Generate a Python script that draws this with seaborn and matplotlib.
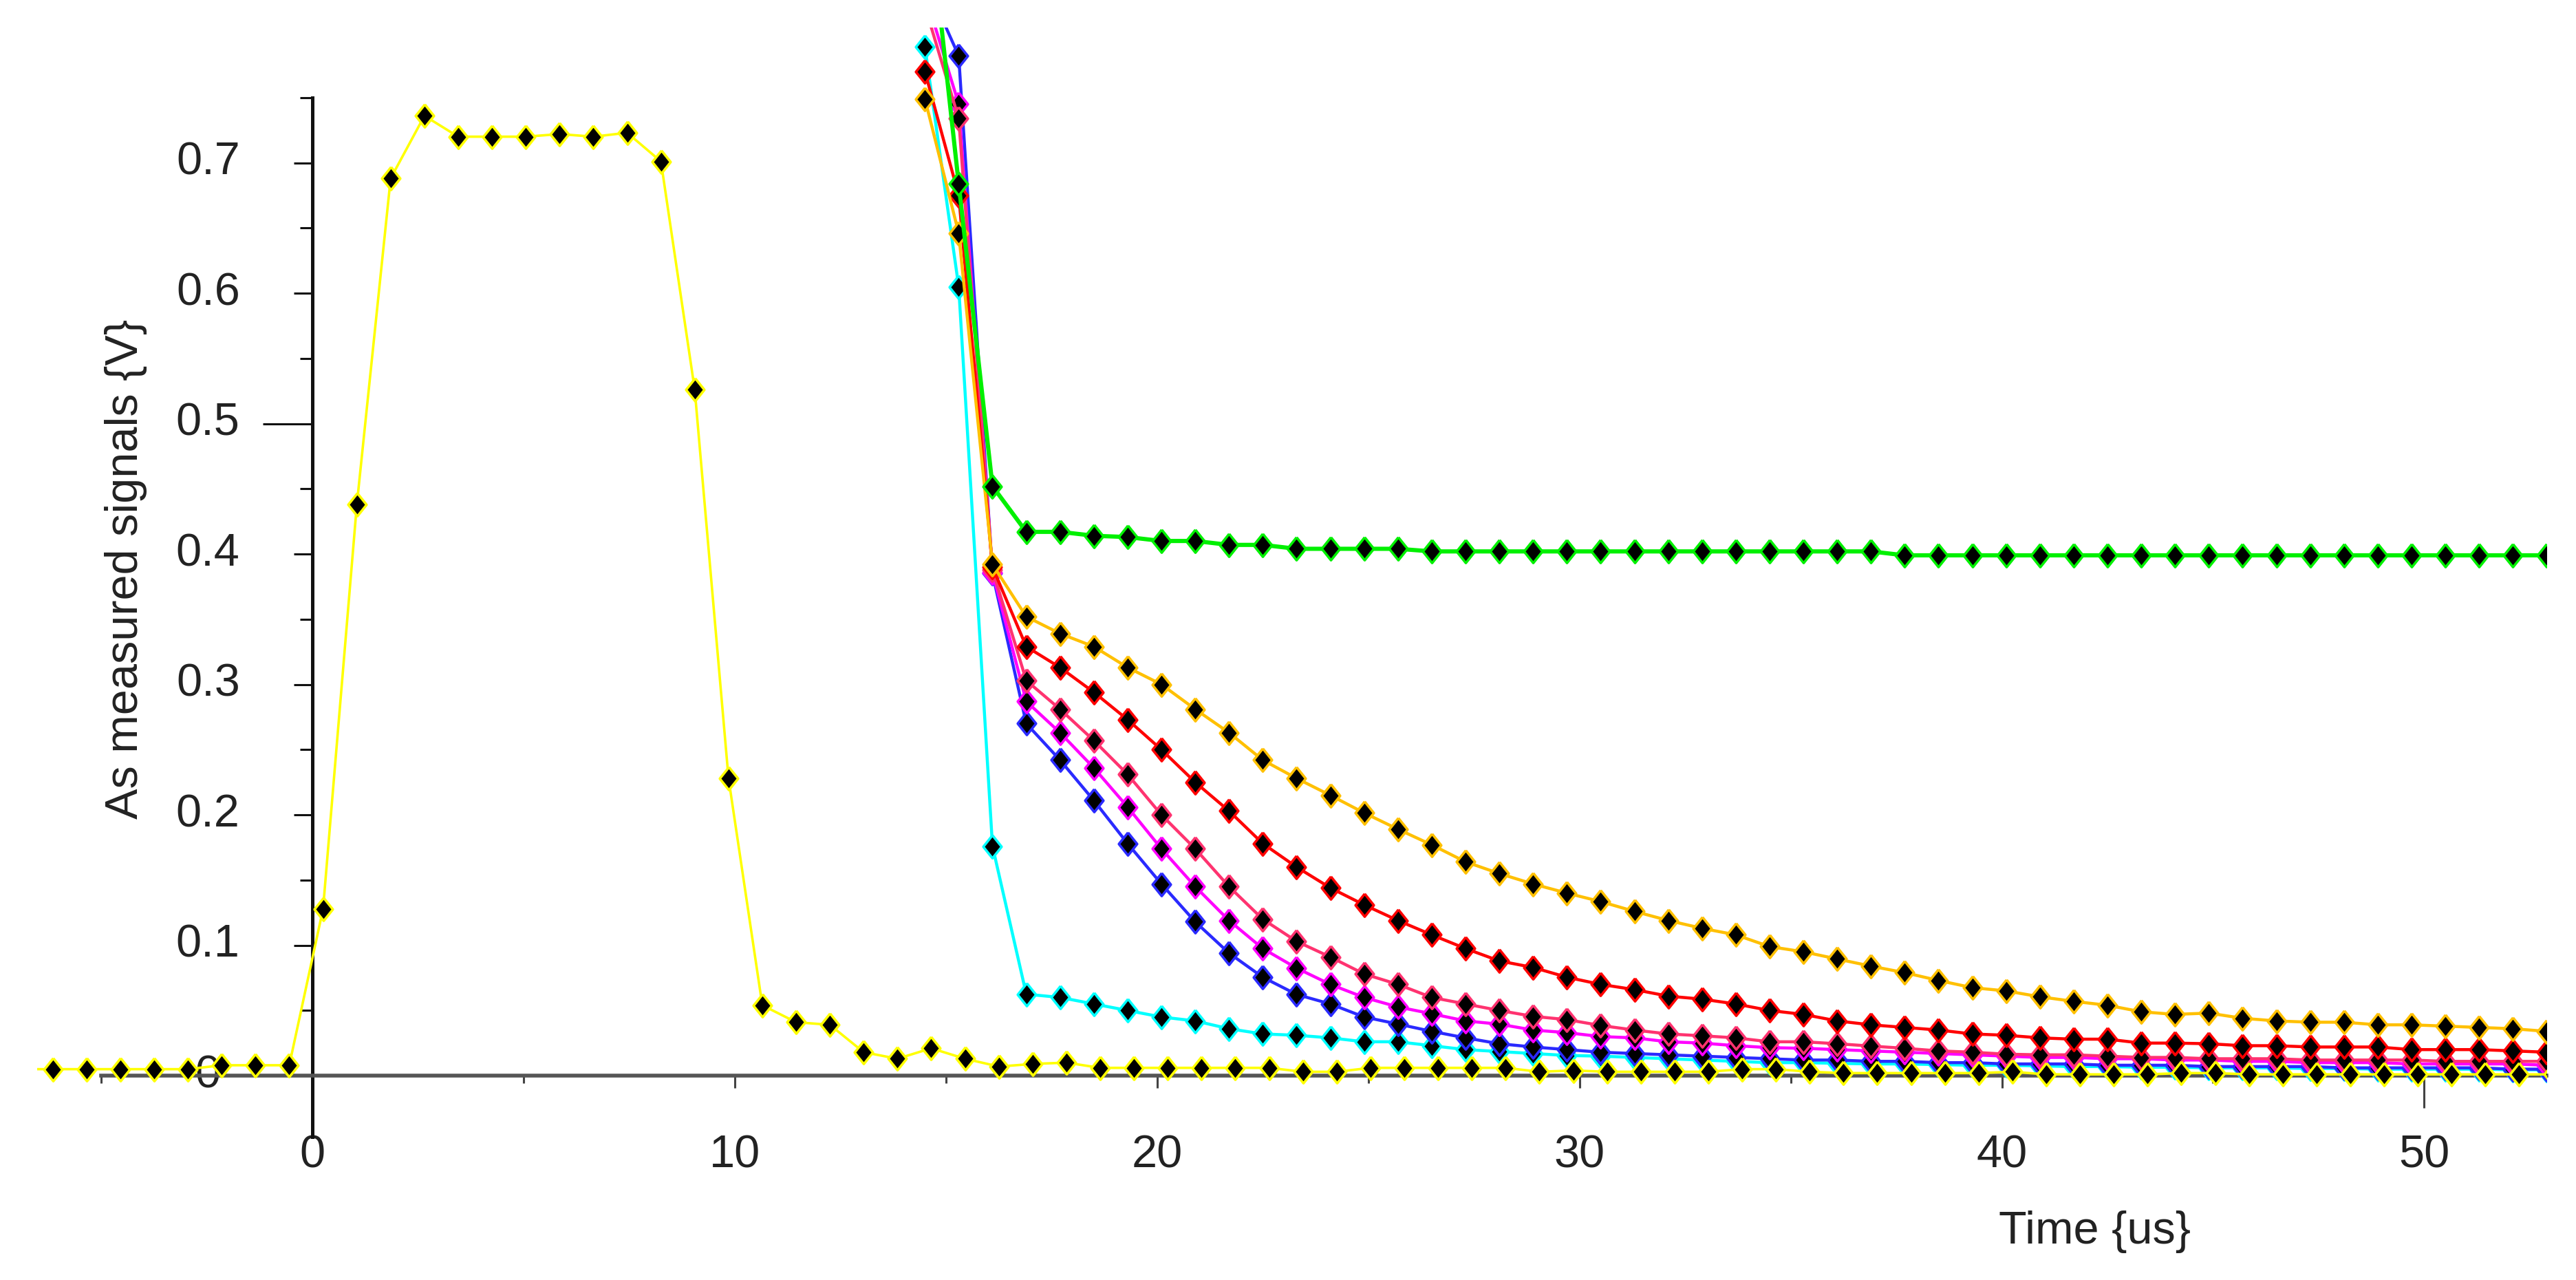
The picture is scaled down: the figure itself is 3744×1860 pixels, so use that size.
import numpy as np
import pandas as pd
import seaborn as sns
from matplotlib import pyplot as plt
from matplotlib.ticker import FixedLocator, FuncFormatter

# excitation pulse, sampled every 0.8 us
PULSE_TIME = [
    -6.95, -6.15, -5.35, -4.55, -3.75, -2.95, -2.15, -1.35, -0.55, 0.25,
    1.05, 1.85, 2.65, 3.45, 4.25, 5.05, 5.85, 6.65, 7.45, 8.25,
    9.05, 9.85, 10.65, 11.45, 12.25, 13.05, 13.85, 14.65, 15.45, 16.25,
    17.05, 17.85, 18.65, 19.45, 20.25, 21.05, 21.85, 22.65, 23.45, 24.25,
    25.05, 25.85, 26.65, 27.45, 28.25, 29.05, 29.85, 30.65, 31.45, 32.25,
    33.05, 33.85, 34.65, 35.45, 36.25, 37.05, 37.85, 38.65, 39.45, 40.25,
    41.05, 41.85, 42.65, 43.45, 44.25, 45.05, 45.85, 46.65, 47.45, 48.25,
    49.05, 49.85, 50.65, 51.45, 52.25, 53.05,
]
PULSE = [
    0.005, 0.005, 0.005, 0.005, 0.005, 0.005, 0.008, 0.008, 0.008, 0.128,
    0.438, 0.688, 0.736, 0.720, 0.720, 0.720, 0.722, 0.720, 0.723, 0.701,
    0.526, 0.228, 0.054, 0.041, 0.039, 0.018, 0.013, 0.021, 0.013, 0.007,
    0.009, 0.010, 0.006, 0.006, 0.006, 0.006, 0.006, 0.006, 0.003, 0.003,
    0.006, 0.006, 0.006, 0.006, 0.006, 0.003, 0.004, 0.003, 0.003, 0.003,
    0.003, 0.005, 0.005, 0.003, 0.002, 0.002, 0.002, 0.002, 0.002, 0.003,
    0.001, 0.001, 0.001, 0.001, 0.002, 0.002, 0.001, 0.001, 0.001, 0.001,
    0.001, 0.001, 0.001, 0.001, 0.001, 0.001,
]

# decay traces after switch-off
DECAY_TIME = [
    14.5, 15.3, 16.1, 16.9, 17.7, 18.5, 19.3, 20.1, 20.9, 21.7,
    22.5, 23.3, 24.1, 24.9, 25.7, 26.5, 27.3, 28.1, 28.9, 29.7,
    30.5, 31.3, 32.1, 32.9, 33.7, 34.5, 35.3, 36.1, 36.9, 37.7,
    38.5, 39.3, 40.1, 40.9, 41.7, 42.5, 43.3, 44.1, 44.9, 45.7,
    46.5, 47.3, 48.1, 48.9, 49.7, 50.5, 51.3, 52.1, 52.9,
]
GREEN = [
    0.92, 0.684, 0.452, 0.417, 0.417, 0.414, 0.413, 0.410, 0.410, 0.407,
    0.407, 0.404, 0.404, 0.404, 0.404, 0.402, 0.402, 0.402, 0.402, 0.402,
    0.402, 0.402, 0.402, 0.402, 0.402, 0.402, 0.402, 0.402, 0.402, 0.399,
    0.399, 0.399, 0.399, 0.399, 0.399, 0.399, 0.399, 0.399, 0.399, 0.399,
    0.399, 0.399, 0.399, 0.399, 0.399, 0.399, 0.399, 0.399, 0.399,
]
ORANGE = [
    0.749, 0.646, 0.392, 0.352, 0.339, 0.329, 0.313, 0.300, 0.281, 0.263,
    0.242, 0.228, 0.215, 0.2015, 0.189, 0.177, 0.164, 0.155, 0.147, 0.140,
    0.1335, 0.126, 0.119, 0.113, 0.108, 0.099, 0.095, 0.0895, 0.084, 0.079,
    0.073, 0.0675, 0.065, 0.0605, 0.057, 0.054, 0.049, 0.047, 0.048, 0.044,
    0.042, 0.041, 0.041, 0.039, 0.039, 0.038, 0.037, 0.036, 0.034,
]
RED = [
    0.770, 0.675, 0.390, 0.329, 0.313, 0.294, 0.273, 0.250, 0.225, 0.203,
    0.178, 0.160, 0.144, 0.131, 0.119, 0.108, 0.0975, 0.088, 0.083, 0.0755,
    0.070, 0.066, 0.061, 0.0587, 0.055, 0.050, 0.047, 0.042, 0.039, 0.037,
    0.035, 0.032, 0.031, 0.029, 0.028, 0.028, 0.025, 0.025, 0.0245, 0.023,
    0.023, 0.022, 0.022, 0.022, 0.020, 0.020, 0.020, 0.019, 0.018,
]
CRIMSON = [
    0.82, 0.734, 0.388, 0.303, 0.281, 0.257, 0.231, 0.200, 0.174, 0.145,
    0.120, 0.103, 0.091, 0.078, 0.070, 0.060, 0.055, 0.050, 0.0455, 0.043,
    0.0385, 0.035, 0.032, 0.0306, 0.029, 0.026, 0.026, 0.0245, 0.0227, 0.021,
    0.019, 0.018, 0.0165, 0.016, 0.016, 0.015, 0.014, 0.014, 0.013, 0.013,
    0.013, 0.012, 0.012, 0.012, 0.012, 0.011, 0.011, 0.011, 0.011,
]
MAGENTA = [
    0.83, 0.745, 0.386, 0.287, 0.263, 0.236, 0.206, 0.174, 0.145, 0.119,
    0.0975, 0.0825, 0.070, 0.060, 0.0527, 0.0475, 0.042, 0.0395, 0.035, 0.033,
    0.030, 0.029, 0.026, 0.025, 0.023, 0.0215, 0.021, 0.020, 0.019, 0.018,
    0.017, 0.016, 0.015, 0.014, 0.014, 0.013, 0.013, 0.012, 0.012, 0.011,
    0.011, 0.010, 0.010, 0.010, 0.009, 0.009, 0.009, 0.009, 0.008,
]
BLUE = [
    0.84, 0.782, 0.385, 0.270, 0.242, 0.211, 0.178, 0.147, 0.118, 0.094,
    0.0755, 0.0623, 0.055, 0.045, 0.0396, 0.034, 0.029, 0.0245, 0.022, 0.020,
    0.018, 0.017, 0.016, 0.015, 0.014, 0.013, 0.012, 0.012, 0.011, 0.011,
    0.010, 0.010, 0.009, 0.009, 0.009, 0.008, 0.008, 0.008, 0.007, 0.007,
    0.007, 0.007, 0.006, 0.006, 0.006, 0.006, 0.006, 0.005, 0.005,
]
CYAN = [
    0.789, 0.605, 0.176, 0.0625, 0.060, 0.055, 0.050, 0.045, 0.042, 0.036,
    0.032, 0.031, 0.029, 0.026, 0.026, 0.023, 0.020, 0.0185, 0.017, 0.0155,
    0.015, 0.014, 0.013, 0.012, 0.011, 0.010, 0.010, 0.0095, 0.009, 0.009,
    0.0085, 0.008, 0.008, 0.0075, 0.007, 0.007, 0.0065, 0.0065, 0.006, 0.006,
    0.006, 0.0055, 0.0055, 0.005, 0.005, 0.005, 0.005, 0.0045, 0.0045,
]

COLORS = {
    "cyan": "#00ffff",
    "blue": "#2a2aff",
    "magenta": "#ff00ff",
    "crimson": "#ff3370",
    "red": "#ff0000",
    "orange": "#ffc000",
    "green": "#00f000",
    "pulse": "#ffff00",
}
WIDTHS = {"green": 2.2, "pulse": 1.3}
# slightly tall diamond, like the scope software draws
DIAMOND = [(0, 1), (0.8, 0), (0, -1), (-0.8, 0), (0, 1)]

sns.set_theme(style="white")
plt.rcParams["font.family"] = ["Liberation Sans", "DejaVu Sans"]
TEXT = "#222222"

frames = [pd.DataFrame({"time": PULSE_TIME, "signal": PULSE, "trace": "pulse"})]
for name, values in [("cyan", CYAN), ("blue", BLUE), ("magenta", MAGENTA),
                     ("crimson", CRIMSON), ("red", RED), ("orange", ORANGE),
                     ("green", GREEN)]:
    frames.append(pd.DataFrame({"time": DECAY_TIME, "signal": values, "trace": name}))
data = pd.concat(frames, ignore_index=True)

fig = plt.figure(figsize=(18.72, 9.3), dpi=200)
ax = fig.add_axes([0.01442, 0.0883, 0.9742, 0.8902])

for name in ["cyan", "blue", "magenta", "crimson", "red", "orange", "green", "pulse"]:
    sns.lineplot(
        data=data[data["trace"] == name],
        x="time",
        y="signal",
        color=COLORS[name],
        linewidth=WIDTHS.get(name, 1.6),
        marker=DIAMOND,
        markersize=12.0,
        markerfacecolor="black",
        markeredgecolor=COLORS[name],
        markeredgewidth=1.3,
        errorbar=None,
        sort=False,
        legend=False,
        zorder=3,
        ax=ax,
    )

ax.set_xlim(-6.52, 52.9)
ax.set_ylim(-0.07, 0.8037)

ax.spines["top"].set_visible(False)
ax.spines["right"].set_visible(False)
ax.spines["left"].set_position(("data", 0))
ax.spines["bottom"].set_position(("data", 0))
ax.spines["left"].set_bounds(-0.047, 0.75)
ax.spines["bottom"].set_bounds(-5, 52.9)
ax.spines["left"].set_color("#111111")
ax.spines["bottom"].set_color("#555555")
ax.spines["left"].set_linewidth(1.8)
ax.spines["bottom"].set_linewidth(2.0)

ax.xaxis.set_major_locator(FixedLocator(np.arange(0, 51, 10)))
ax.xaxis.set_minor_locator(FixedLocator(np.arange(-5, 50, 10)))
ax.yaxis.set_major_locator(FixedLocator(np.round(np.arange(0, 0.71, 0.1), 2)))
ax.yaxis.set_minor_locator(FixedLocator(np.round(np.arange(0.05, 0.76, 0.1), 2)))
ax.yaxis.set_major_formatter(FuncFormatter(lambda v, p: f"{v:g}"))
ax.xaxis.set_major_formatter(FuncFormatter(lambda v, p: f"{v:g}"))

ax.tick_params(axis="y", which="major", left=True, direction="out", length=9.7,
               width=1.1, pad=45, labelsize=24, color="#111111", labelcolor=TEXT)
ax.tick_params(axis="y", which="minor", left=True, direction="out", length=6.5,
               width=1.1, color="#111111")
ax.tick_params(axis="x", which="major", bottom=True, direction="out", length=6.5,
               width=1.1, pad=35.3, labelsize=24, color="#444444", labelcolor=TEXT)
ax.tick_params(axis="x", which="minor", bottom=True, direction="out", length=4,
               width=1.1, color="#444444")

plt.setp(ax.get_yticklabels(), ha="center", va="center")
plt.setp(ax.get_xticklabels(), va="center")

# the 0.5 and 50 ticks are drawn longer
ax.yaxis.get_major_ticks()[5].tick1line.set_markersize(26)
ax.xaxis.get_major_ticks()[5].tick1line.set_markersize(17)

ax.set_xlabel("Time {us}", fontsize=24, color=TEXT)
ax.set_ylabel("As measured signals {V}", fontsize=24, color=TEXT)
ax.xaxis.set_label_coords(0.820, -0.057)
ax.yaxis.set_label_coords(0.0354, 0.5247)
ax.xaxis.label.set_va("center")
ax.yaxis.label.set_va("center")

fig.savefig("out.png", dpi=200, facecolor="white")
